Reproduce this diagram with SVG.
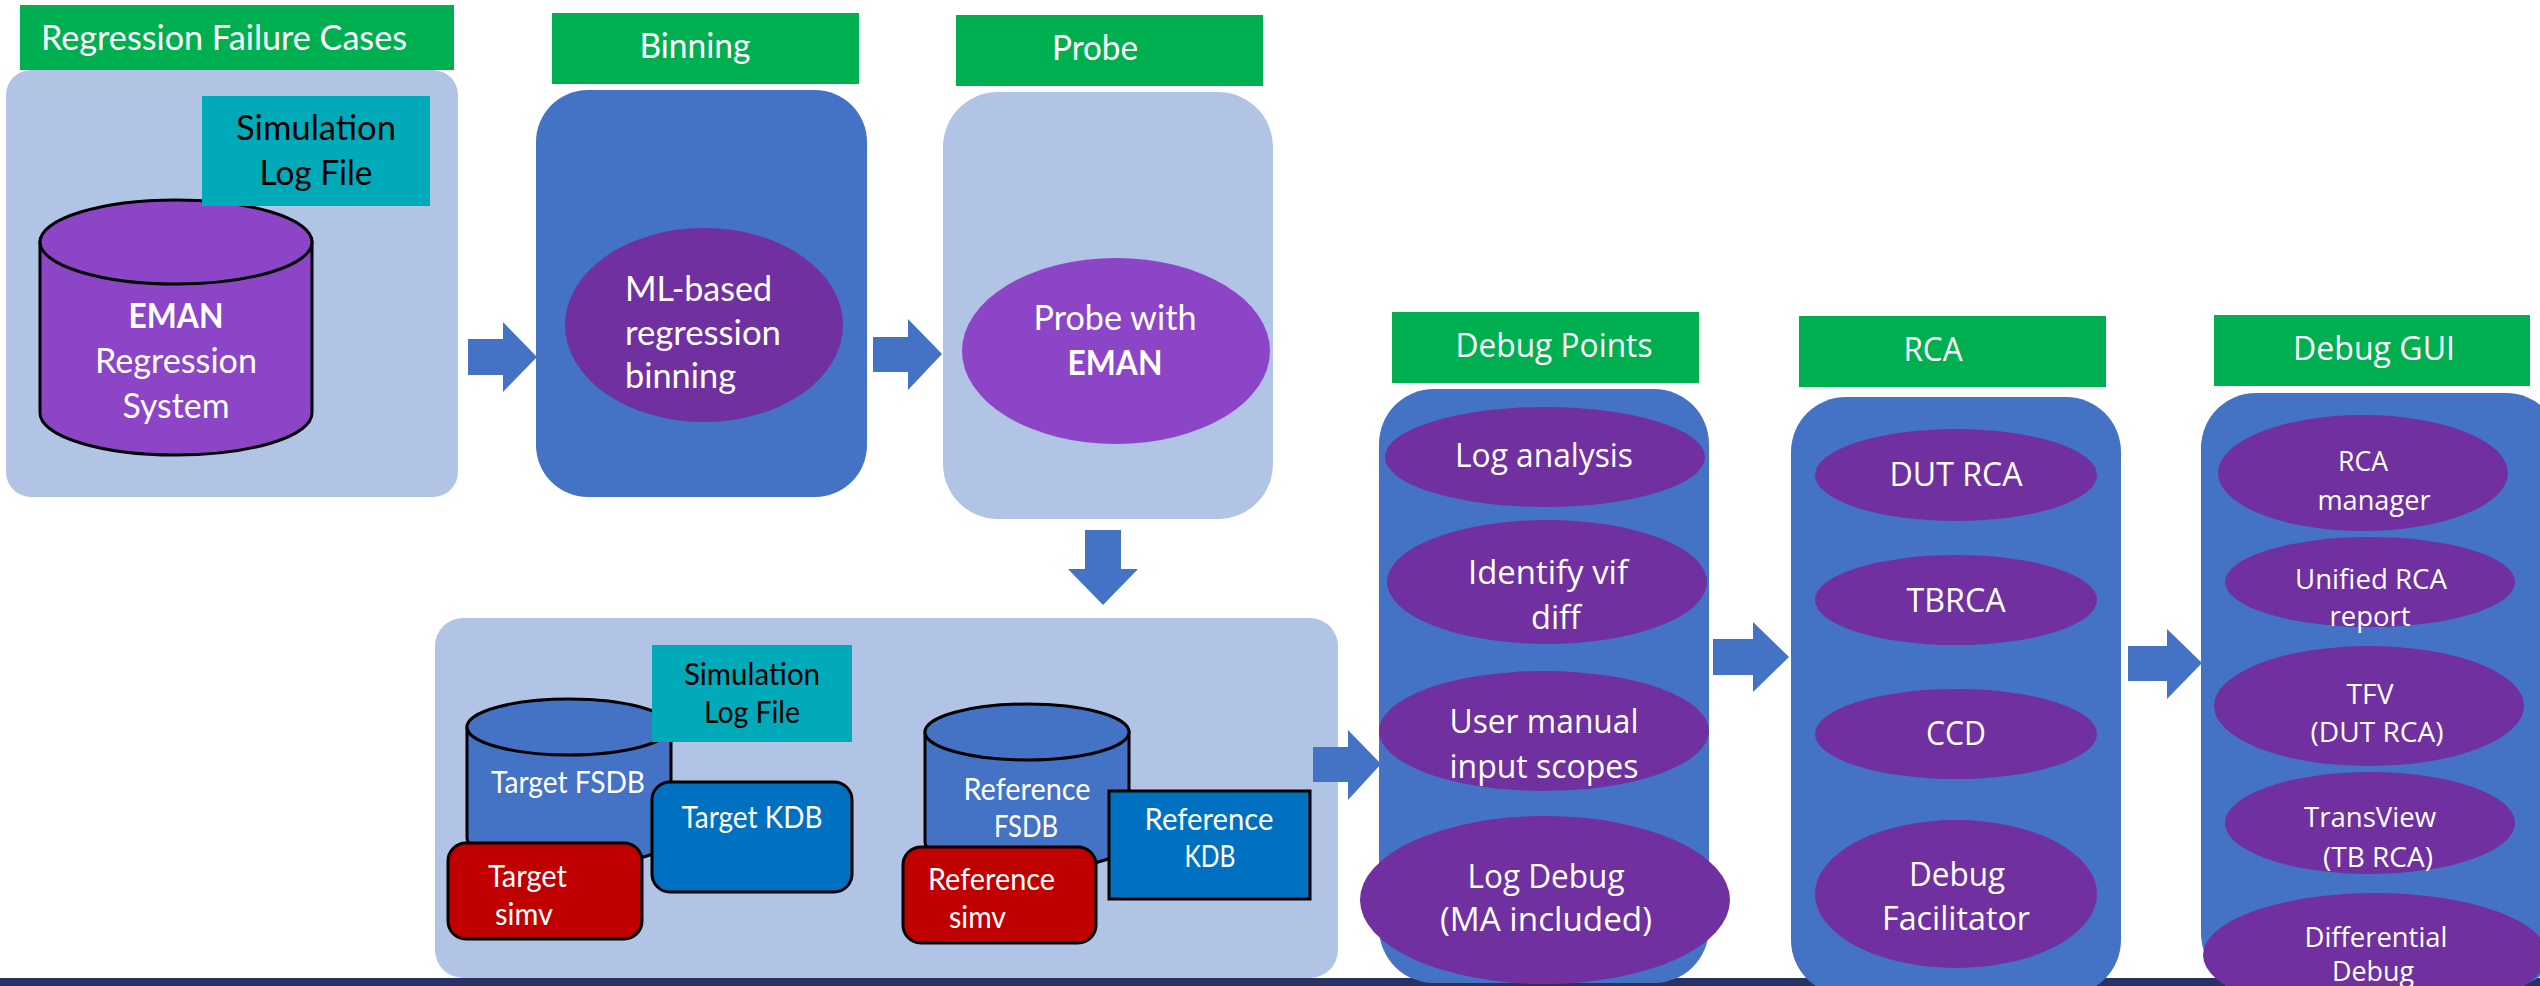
<svg xmlns="http://www.w3.org/2000/svg" width="2540" height="986" viewBox="0 0 2540 986">
<style>
.lbl{fill:#00B050}
.light{fill:#B1C4E6}
.blue{fill:#4472C4}
.pd{fill:#7030A0}
.pl{fill:#8C45C7}
.teal{fill:#00AAB9}
.kdb{fill:#0070C0;stroke:#000;stroke-width:3}
.red{fill:#C00000;stroke:#000;stroke-width:3}
.cyl{stroke:#000;stroke-width:3}
.arrow{fill:#4472C4}
.c{font-family:Lato,"Liberation Sans",sans-serif;fill:#fff}
.s{font-family:"Open Sans","DejaVu Sans",sans-serif;fill:#fff}
.k{fill:#000}
.b{font-weight:bold}
.m{text-anchor:middle}
.f36{font-size:35px}
.f31{font-size:30px}
.o31{font-size:33px}
.o26{font-size:28px}
</style>
<rect x="0" y="978" width="2540" height="8" fill="#283264"/>

<g id="regression-failure-cases">
<rect x="6" y="70" width="452" height="427" rx="25" class="light"/>
<rect x="20" y="5" width="434" height="65" class="lbl"/>
<text x="41" y="50" class="c f36" textLength="366" lengthAdjust="spacingAndGlyphs">Regression Failure Cases</text>
<g id="eman-regression-system">
<path d="M40,242 L40,413 A136,42 0 0 0 312,413 L312,242 Z" class="pl cyl"/>
<ellipse cx="176" cy="242" rx="136" ry="42" class="pl cyl"/>
<text x="176" y="328" class="c f36 b m" textLength="95" lengthAdjust="spacingAndGlyphs">EMAN</text>
<text x="176" y="373" class="c f36 m" textLength="162" lengthAdjust="spacingAndGlyphs">Regression</text>
<text x="176" y="418" class="c f36 m" textLength="107" lengthAdjust="spacingAndGlyphs">System</text>
</g>
<g id="simulation-log-file-1">
<rect x="202" y="96" width="228" height="110" class="teal"/>
<text x="316" y="140" class="c k f36 m" textLength="160" lengthAdjust="spacingAndGlyphs">Simulation</text>
<text x="316" y="185" class="c k f36 m" textLength="113" lengthAdjust="spacingAndGlyphs">Log File</text>
</g>
</g>

<g id="binning">
<rect x="552" y="13" width="307" height="71" class="lbl"/>
<text x="695" y="58" class="c f36 m" textLength="111" lengthAdjust="spacingAndGlyphs">Binning</text>
<rect x="536" y="90" width="331" height="407" rx="52" class="blue"/>
<ellipse cx="704" cy="325" rx="139" ry="97" class="pd"/>
<text x="625" y="301" class="c f36" textLength="147" lengthAdjust="spacingAndGlyphs">ML-based</text>
<text x="625" y="345" class="c f36" textLength="156" lengthAdjust="spacingAndGlyphs">regression</text>
<text x="625" y="388" class="c f36" textLength="111" lengthAdjust="spacingAndGlyphs">binning</text>
</g>

<g id="probe">
<rect x="956" y="15" width="307" height="71" class="lbl"/>
<text x="1095" y="60" class="c f36 m" textLength="86" lengthAdjust="spacingAndGlyphs">Probe</text>
<rect x="943" y="92" width="330" height="427" rx="55" class="light"/>
<ellipse cx="1116" cy="351" rx="154" ry="93" class="pl"/>
<text x="1115" y="330" class="c f36 m" textLength="163" lengthAdjust="spacingAndGlyphs">Probe with</text>
<text x="1115" y="375" class="c f36 b m" textLength="95" lengthAdjust="spacingAndGlyphs">EMAN</text>
</g>

<g id="simulation-data">
<rect x="435" y="618" width="903" height="360" rx="28" class="light"/>
<g id="target-fsdb">
<path d="M467,727 L467,838 A102,28 0 0 0 671,838 L671,727 Z" class="blue cyl"/>
<ellipse cx="569" cy="727" rx="102" ry="28" class="blue cyl"/>
<text x="568" y="793" class="c f31 m" textLength="154" lengthAdjust="spacingAndGlyphs">Target FSDB</text>
</g>
<g id="simulation-log-file-2">
<rect x="652" y="645" width="200" height="97" class="teal"/>
<text x="752" y="685" class="c k f31 m" textLength="136" lengthAdjust="spacingAndGlyphs">Simulation</text>
<text x="752" y="723" class="c k f31 m" textLength="96" lengthAdjust="spacingAndGlyphs">Log File</text>
</g>
<g id="target-kdb">
<rect x="652" y="782" width="200" height="110" rx="18" class="kdb"/>
<text x="752" y="828" class="c f31 m" textLength="141" lengthAdjust="spacingAndGlyphs">Target KDB</text>
</g>
<g id="target-simv">
<rect x="448" y="843" width="194" height="96" rx="18" class="red"/>
<text x="488" y="887" class="c f31" textLength="79" lengthAdjust="spacingAndGlyphs">Target</text>
<text x="495" y="925" class="c f31" textLength="58" lengthAdjust="spacingAndGlyphs">simv</text>
</g>
<g id="reference-fsdb">
<path d="M925,732 L925,842 A102,28 0 0 0 1129,842 L1129,732 Z" class="blue cyl"/>
<ellipse cx="1027" cy="732" rx="102" ry="28" class="blue cyl"/>
<text x="1027" y="800" class="c f31 m" textLength="127" lengthAdjust="spacingAndGlyphs">Reference</text>
<text x="1026" y="837" class="c f31 m" textLength="64" lengthAdjust="spacingAndGlyphs">FSDB</text>
</g>
<g id="reference-kdb">
<rect x="1109" y="791" width="201" height="108" class="kdb"/>
<text x="1209" y="830" class="c f31 m" textLength="129" lengthAdjust="spacingAndGlyphs">Reference</text>
<text x="1210" y="867" class="c f31 m" textLength="51" lengthAdjust="spacingAndGlyphs">KDB</text>
</g>
<g id="reference-simv">
<rect x="903" y="847" width="193" height="96" rx="18" class="red"/>
<text x="928" y="890" class="c f31" textLength="127" lengthAdjust="spacingAndGlyphs">Reference</text>
<text x="949" y="928" class="c f31" textLength="57" lengthAdjust="spacingAndGlyphs">simv</text>
</g>
</g>

<g id="debug-points">
<rect x="1392" y="312" width="307" height="71" class="lbl"/>
<text x="1554" y="357" class="s o31 m" textLength="197" lengthAdjust="spacingAndGlyphs">Debug Points</text>
<rect x="1379" y="389" width="330" height="594" rx="55" class="blue"/>
<ellipse cx="1545" cy="457" rx="160" ry="50" class="pd"/>
<text x="1544" y="467" class="s o31 m" textLength="178" lengthAdjust="spacingAndGlyphs">Log analysis</text>
<ellipse cx="1547" cy="582" rx="160" ry="62" class="pd"/>
<text x="1548" y="584" class="s o31 m" textLength="160" lengthAdjust="spacingAndGlyphs">Identify vif</text>
<text x="1556" y="629" class="s o31 m" textLength="50" lengthAdjust="spacingAndGlyphs">diff</text>
<ellipse cx="1544" cy="731" rx="165" ry="60" class="pd"/>
<text x="1544" y="733" class="s o31 m" textLength="189" lengthAdjust="spacingAndGlyphs">User manual</text>
<text x="1544" y="778" class="s o31 m" textLength="189" lengthAdjust="spacingAndGlyphs">input scopes</text>
<ellipse cx="1545" cy="900" rx="185" ry="84" class="pd"/>
<text x="1546" y="888" class="s o31 m" textLength="157" lengthAdjust="spacingAndGlyphs">Log Debug</text>
<text x="1546" y="931" class="s o31 m" textLength="212" lengthAdjust="spacingAndGlyphs">(MA included)</text>
</g>

<g id="rca">
<rect x="1799" y="316" width="307" height="71" class="lbl"/>
<text x="1933" y="361" class="s o31 m" textLength="59" lengthAdjust="spacingAndGlyphs">RCA</text>
<rect x="1791" y="397" width="330" height="598" rx="55" class="blue"/>
<ellipse cx="1956" cy="475" rx="141" ry="46" class="pd"/>
<text x="1956" y="486" class="s o31 m" textLength="133" lengthAdjust="spacingAndGlyphs">DUT RCA</text>
<ellipse cx="1956" cy="600" rx="141" ry="45" class="pd"/>
<text x="1956" y="612" class="s o31 m" textLength="99" lengthAdjust="spacingAndGlyphs">TBRCA</text>
<ellipse cx="1956" cy="734" rx="141" ry="45" class="pd"/>
<text x="1956" y="745" class="s o31 m" textLength="60" lengthAdjust="spacingAndGlyphs">CCD</text>
<ellipse cx="1956" cy="894" rx="141" ry="74" class="pd"/>
<text x="1957" y="886" class="s o31 m" textLength="96" lengthAdjust="spacingAndGlyphs">Debug</text>
<text x="1956" y="930" class="s o31 m" textLength="148" lengthAdjust="spacingAndGlyphs">Facilitator</text>
</g>

<g id="debug-gui">
<rect x="2214" y="315" width="316" height="71" class="lbl"/>
<text x="2374" y="360" class="s o31 m" textLength="162" lengthAdjust="spacingAndGlyphs">Debug GUI</text>
<rect x="2201" y="393" width="360" height="595" rx="55" class="blue"/>
<ellipse cx="2363" cy="473" rx="145" ry="58" class="pd"/>
<text x="2363" y="471" class="s o26 m" textLength="50" lengthAdjust="spacingAndGlyphs">RCA</text>
<text x="2374" y="510" class="s o26 m" textLength="113" lengthAdjust="spacingAndGlyphs">manager</text>
<ellipse cx="2370" cy="582" rx="145" ry="45" class="pd"/>
<text x="2371" y="589" class="s o26 m" textLength="152" lengthAdjust="spacingAndGlyphs">Unified RCA</text>
<text x="2370" y="626" class="s o26 m" textLength="81" lengthAdjust="spacingAndGlyphs">report</text>
<ellipse cx="2369" cy="706" rx="155" ry="60" class="pd"/>
<text x="2370" y="704" class="s o26 m" textLength="47" lengthAdjust="spacingAndGlyphs">TFV</text>
<text x="2377" y="742" class="s o26 m" textLength="133" lengthAdjust="spacingAndGlyphs">(DUT RCA)</text>
<ellipse cx="2370" cy="823" rx="145" ry="51" class="pd"/>
<text x="2370" y="827" class="s o26 m" textLength="132" lengthAdjust="spacingAndGlyphs">TransView</text>
<text x="2378" y="867" class="s o26 m" textLength="110" lengthAdjust="spacingAndGlyphs">(TB RCA)</text>
<ellipse cx="2375" cy="955" rx="172" ry="62" class="pd"/>
<text x="2376" y="947" class="s o26 m" textLength="143" lengthAdjust="spacingAndGlyphs">Differential</text>
<text x="2373" y="981" class="s o26 m" textLength="82" lengthAdjust="spacingAndGlyphs">Debug</text>
</g>

<g id="connectors">
<polygon class="arrow" points="468,339 503,339 503,322 537,357 503,392 503,375 468,375"/>
<polygon class="arrow" points="873,337 908,337 908,319 942,354 908,390 908,372 873,372"/>
<polygon class="arrow" points="1085,530 1121,530 1121,569 1138,569 1103,605 1068,569 1085,569"/>
<polygon class="arrow" points="1313,747 1348,747 1348,730 1381,764 1348,800 1348,782 1313,782"/>
<polygon class="arrow" points="1713,639 1753,639 1753,622 1789,657 1753,692 1753,675 1713,675"/>
<polygon class="arrow" points="2128,646 2167,646 2167,629 2202,663 2167,699 2167,681 2128,681"/>
</g>
</svg>
